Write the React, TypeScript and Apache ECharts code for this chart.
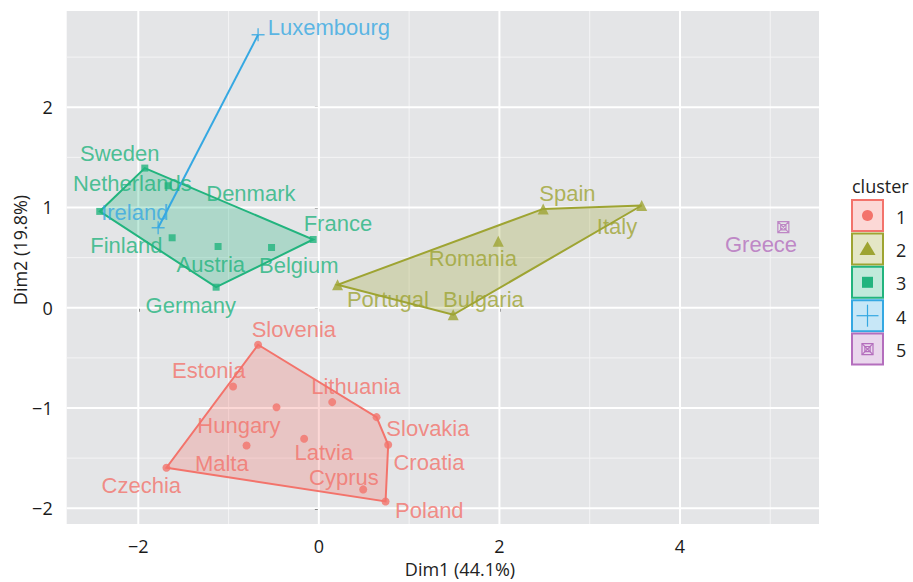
import React, { useEffect, useRef } from "react";
import * as echarts from "echarts";

// ---------- data ----------
const countries = [
  "Luxembourg", "Ireland",
  "Sweden", "Netherlands", "Finland", "Denmark", "Austria", "Belgium", "France", "Germany",
  "Spain", "Italy", "Romania", "Portugal", "Bulgaria",
  "Greece",
  "Slovenia", "Estonia", "Hungary", "Malta", "Czechia", "Lithuania", "Slovakia", "Latvia", "Croatia", "Cyprus", "Poland",
];
const clusterOf = [4, 4, 3, 3, 3, 3, 3, 3, 3, 3, 2, 2, 2, 2, 2, 5, 1, 1, 1, 1, 1, 1, 1, 1, 1, 1, 1];
const dim1 = [
  -0.673, -1.78,
  -1.928, -1.67, -2.427, -1.625, -1.116, -0.524, -0.063, -1.138,
  2.485, 3.576, 1.987, 0.207, 1.488,
  5.145,
  -0.673, -0.95, -0.469, -0.801, -1.688, 0.148, 0.639, -0.163, 0.768, 0.491, 0.739,
];
const dim2 = [
  2.723, 0.798,
  1.393, 1.217, 0.961, 0.698, 0.611, 0.601, 0.681, 0.205,
  0.986, 1.02, 0.664, 0.229, -0.07,
  0.804,
  -0.369, -0.785, -0.992, -1.374, -1.596, -0.941, -1.091, -1.307, -1.367, -1.812, -1.932,
];
// label anchor positions (data units, as placed in the reference)
const labelX = [
  0.111, -2.039,
  -2.205, -2.066, -2.133, -0.753, -1.197, -0.222, 0.211, -1.418,
  2.753, 3.302, 1.706, 0.765, 1.823,
  4.898,
  -0.277, -1.219, -0.886, -1.075, -1.967, 0.41, 1.208, 0.055, 1.219, 0.277, 1.224,
];
const labelY = [
  2.796, 0.948,
  1.542, 1.237, 0.621, 1.137, 0.429, 0.422, 0.844, 0.023,
  1.137, 0.811, 0.489, 0.083, 0.083,
  0.628,
  -0.216, -0.625, -1.174, -1.556, -1.773, -0.785, -1.207, -1.443, -1.54, -1.696, -2.022,
];
const clusterIds = [1, 2, 3, 4, 5];
const xTicks = [-2, 0, 2, 4];
const yTicks = [-2, -1, 0, 1, 2];
const xMinor = [-1, 1, 3, 5];
const yMinor = [-1.5, -0.5, 0.5, 1.5, 2.5];
const X_MIN = -2.793;
const X_MAX = 5.54;
const Y_MIN = -2.157;
const Y_MAX = 2.96;

// ---------- styles ----------
const clusterColors = ["#F3736B", "#9EA432", "#22B47E", "#35A8E2", "#B46EBD"];
const PLUS = "path://M5,0L5,10M0,5L10,5";
const BOXX = "path://M0,0L10,0L10,10L0,10ZM0,0L10,10M10,0L0,10M2.6,2.6L7.4,2.6L7.4,7.4L2.6,7.4Z";
const symbols = ["circle", "triangle", "rect", PLUS, BOXX];
const symbolSizes = [8, 11, 7, 13, 11];
const AXIS_FONT = "'Open Sans', 'DejaVu Sans', sans-serif";
const LABEL_FONT = "'Liberation Sans', Arial, sans-serif";

function rgba(hex: string, a: number) {
  const n = parseInt(hex.slice(1), 16);
  return `rgba(${(n >> 16) & 255},${(n >> 8) & 255},${n & 255},${a})`;
}

function convexHull(pts: number[][]) {
  const p = pts.slice().sort((a, b) => a[0] - b[0] || a[1] - b[1]);
  if (p.length < 3) return p;
  const cross = (o: number[], a: number[], b: number[]) =>
    (a[0] - o[0]) * (b[1] - o[1]) - (a[1] - o[1]) * (b[0] - o[0]);
  const lower: number[][] = [];
  for (const q of p) {
    while (lower.length >= 2 && cross(lower[lower.length - 2], lower[lower.length - 1], q) <= 0) lower.pop();
    lower.push(q);
  }
  const upper: number[][] = [];
  for (let i = p.length - 1; i >= 0; i--) {
    const q = p[i];
    while (upper.length >= 2 && cross(upper[upper.length - 2], upper[upper.length - 1], q) <= 0) upper.pop();
    upper.push(q);
  }
  upper.pop();
  lower.pop();
  return lower.concat(upper);
}

const fmtTick = (v: number) => (v < 0 ? "\u2212" + Math.abs(v) : String(v));

export default function App() {
  const ref = useRef<HTMLDivElement>(null);

  useEffect(() => {
    if (!ref.current) return;
    const chart = echarts.init(ref.current, undefined, { renderer: "svg" });

    // grid lines list: kind 0 = x major, 1 = x minor, 2 = y major, 3 = y minor
    const gridLines: number[][] = [
      ...xMinor.map((v) => [v, 1]),
      ...yMinor.map((v) => [v, 3]),
      ...xTicks.map((v) => [v, 0]),
      ...yTicks.map((v) => [v, 2]),
    ];

    const series: any[] = [];
    series.push({
      type: "custom",
      z: 1,
      silent: true,
      data: gridLines.map((g, i) => [i, 0]),
      renderItem: (params: any, api: any) => {
        const g = gridLines[params.dataIndex];
        const v = g[0];
        const kind = g[1];
        let p1, p2;
        if (kind < 2) {
          p1 = api.coord([v, Y_MIN]);
          p2 = api.coord([v, Y_MAX]);
        } else {
          p1 = api.coord([X_MIN, v]);
          p2 = api.coord([X_MAX, v]);
        }
        const major = kind === 0 || kind === 2;
        return {
          type: "line",
          shape: { x1: p1[0], y1: p1[1], x2: p2[0], y2: p2[1] },
          style: { stroke: major ? "#FFFFFF" : "#F4F4F5", lineWidth: major ? 2 : 1 },
        };
      },
    });

    clusterIds.forEach((cid, ci) => {
      const col = clusterColors[ci];
      const idx = countries.map((_, i) => i).filter((i) => clusterOf[i] === cid);
      const pts = idx.map((i) => [dim1[i], dim2[i]]);
      // hull
      series.push({
        type: "custom",
        z: 2,
        silent: true,
        data: pts,
        renderItem: (params: any, api: any) => {
          if (params.dataIndex !== 0) return null;
          const hull = convexHull(pts).map((p) => api.coord(p));
          if (hull.length < 3) {
            return {
              type: "polyline",
              shape: { points: hull },
              style: { stroke: col, lineWidth: 2, fill: "none" },
            };
          }
          return {
            type: "polygon",
            shape: { points: hull },
            style: { fill: rgba(col, 0.28), stroke: col, lineWidth: 2 },
          };
        },
      });
      // points
      const isPath = ci >= 3;
      series.push({
        type: "scatter",
        z: 3,
        silent: true,
        symbol: symbols[ci],
        symbolSize: symbolSizes[ci],
        itemStyle: isPath
          ? { color: "rgba(0,0,0,0)", borderColor: col, borderWidth: ci === 3 ? 1.4 : 1.2 }
          : { color: col },
        data: pts,
      });
      // labels
      series.push({
        type: "scatter",
        z: 4,
        silent: true,
        symbolSize: 0,
        data: idx.map((i) => ({ name: countries[i], value: [labelX[i], labelY[i]] })),
        label: {
          show: true,
          position: "inside",
          formatter: "{b}",
          color: col,
          fontSize: 22,
          fontFamily: LABEL_FONT,
        },
      });
    });

    // legend built with graphics
    const legend: any[] = [
      {
        type: "text",
        x: 852,
        y: 186,
        style: { text: "cluster", fontSize: 18, fontFamily: AXIS_FONT, fill: "#222", align: "left", verticalAlign: "middle" },
      },
    ];
    clusterIds.forEach((cid, i) => {
      const col = clusterColors[i];
      const top = 200 + i * 33.4;
      const left = 852;
      const s = 31;
      const cx = left + s / 2;
      const cy = top + s / 2;
      legend.push({
        type: "rect",
        shape: { x: left, y: top, width: s, height: s },
        style: { fill: rgba(col, 0.28), stroke: col, lineWidth: 2 },
      });
      if (i === 0) {
        legend.push({ type: "circle", shape: { cx, cy, r: 5.5 }, style: { fill: col } });
      } else if (i === 1) {
        legend.push({
          type: "polygon",
          shape: { points: [[cx, cy - 7.5], [cx + 8, cy + 6], [cx - 8, cy + 6]] },
          style: { fill: col },
        });
      } else if (i === 2) {
        legend.push({ type: "rect", shape: { x: cx - 5.5, y: cy - 5.5, width: 11, height: 11 }, style: { fill: col } });
      } else if (i === 3) {
        legend.push({ type: "line", shape: { x1: cx - 11, y1: cy, x2: cx + 11, y2: cy }, style: { stroke: col, lineWidth: 1.2 } });
        legend.push({ type: "line", shape: { x1: cx, y1: cy - 11, x2: cx, y2: cy + 11 }, style: { stroke: col, lineWidth: 1.2 } });
      } else {
        const h = 5.5;
        legend.push({ type: "rect", shape: { x: cx - h, y: cy - h, width: 2 * h, height: 2 * h }, style: { fill: "none", stroke: col, lineWidth: 1.2 } });
        legend.push({ type: "rect", shape: { x: cx - 2.6, y: cy - 2.6, width: 5.2, height: 5.2 }, style: { fill: "none", stroke: col, lineWidth: 1.2 } });
        legend.push({ type: "line", shape: { x1: cx - h, y1: cy - h, x2: cx + h, y2: cy + h }, style: { stroke: col, lineWidth: 1.2 } });
        legend.push({ type: "line", shape: { x1: cx + h, y1: cy - h, x2: cx - h, y2: cy + h }, style: { stroke: col, lineWidth: 1.2 } });
      }
      legend.push({
        type: "text",
        x: 896,
        y: cy + 1,
        style: { text: String(cid), fontSize: 18, fontFamily: AXIS_FONT, fill: "#222", align: "left", verticalAlign: "middle" },
      });
    });

    const option: any = {
      animation: false,
      backgroundColor: "#FFFFFF",
      grid: {
        left: 66.7,
        top: 11,
        right: 94,
        bottom: 58,
        show: true,
        backgroundColor: "#E4E5E7",
        borderWidth: 0,
      },
      xAxis: {
        type: "value",
        min: X_MIN,
        max: X_MAX,
        axisLine: { show: false },
        splitLine: { show: false },
        axisTick: { show: true, length: 4, lineStyle: { color: "#333", width: 1.5 }, customValues: xTicks },
        axisLabel: {
          customValues: xTicks,
          formatter: fmtTick,
          margin: 13,
          color: "#1a1a1a",
          fontSize: 18,
          fontFamily: AXIS_FONT,
        },
      },
      yAxis: {
        type: "value",
        min: Y_MIN,
        max: Y_MAX,
        axisLine: { show: false },
        splitLine: { show: false },
        axisTick: { show: true, length: 4, lineStyle: { color: "#333", width: 1.5 }, customValues: yTicks },
        axisLabel: {
          customValues: yTicks,
          formatter: fmtTick,
          margin: 14,
          color: "#1a1a1a",
          fontSize: 18,
          fontFamily: AXIS_FONT,
        },
      },
      graphic: [
        {
          type: "text",
          x: 460,
          y: 569,
          style: { text: "Dim1 (44.1%)", fontSize: 18, fontFamily: AXIS_FONT, fill: "#222", align: "center", verticalAlign: "middle" },
        },
        {
          type: "text",
          x: 20,
          y: 250,
          rotation: Math.PI / 2,
          style: { text: "Dim2 (19.8%)", fontSize: 18, fontFamily: AXIS_FONT, fill: "#222", align: "center", verticalAlign: "middle" },
        },
        ...legend,
      ],
      series,
    };

    chart.setOption(option);
    return () => chart.dispose();
  }, []);

  return <div ref={ref} style={{ width: 913, height: 582, position: "absolute", left: 0, top: 0 }} />;
}
